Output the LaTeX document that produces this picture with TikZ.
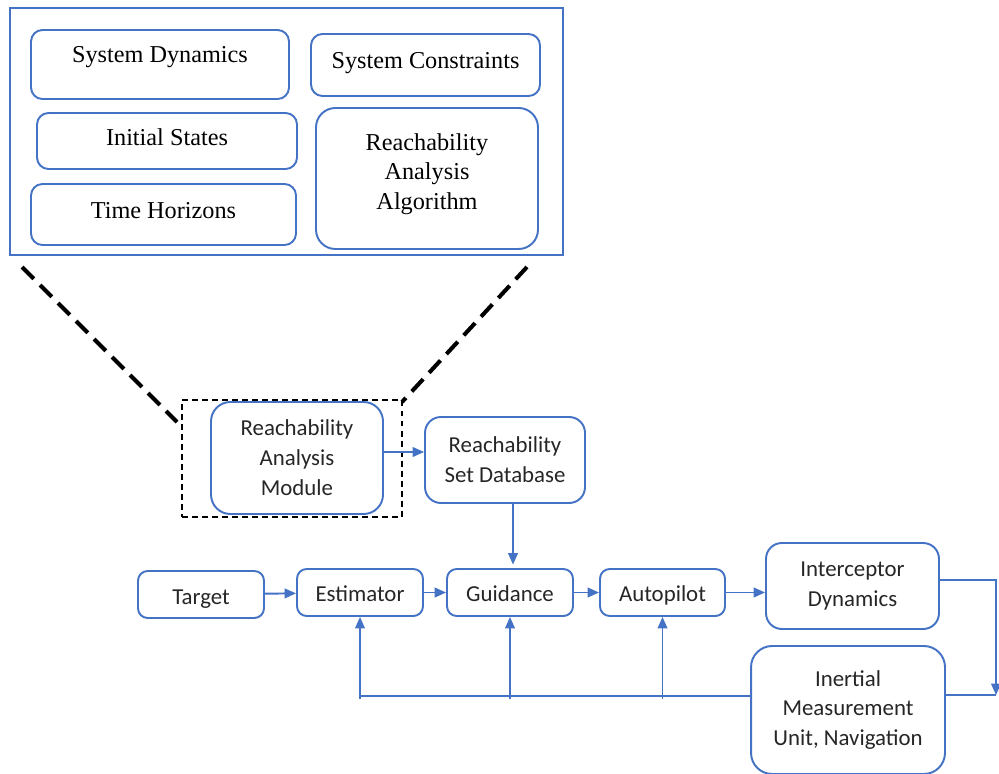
\documentclass[tikz,border=0pt]{standalone}
\usepackage{fontspec}
\setmainfont{Liberation Serif}
\newfontfamily\calibrifont{Carlito}
\usetikzlibrary{arrows.meta}
\definecolor{boxblue}{HTML}{4472C4}
\definecolor{textgray}{HTML}{262626}

\begin{document}
\begin{tikzpicture}[x=0.02cm,y=-0.02cm,
    topbox/.style={draw=boxblue,line width=1.1pt,rounded corners=6.5pt,
      align=center,inner sep=0pt,font=\fontsize{13.8}{16.7}\selectfont},
    blockbox/.style={draw=boxblue,line width=1.1pt,rounded corners=5.5pt,
      align=center,inner sep=0pt,text=textgray,
      font=\calibrifont\fontsize{13}{17}\selectfont},
    smallbox/.style={blockbox,minimum width=2.52cm,minimum height=0.94cm,
      text height=12.5pt,text depth=2pt},
    arr/.style={draw=boxblue,line width=1.1pt,-{Triangle[length=6.5pt,width=5.5pt]}},
    wire/.style={draw=boxblue,line width=1.1pt},
    zoomline/.style={line width=2.3pt,dash pattern=on 9.5pt off 5pt},
    zoombox/.style={draw,line width=0.85pt,dash pattern=on 3.4pt off 2.3pt,
      minimum width=4.4cm,minimum height=2.34cm,inner sep=0pt}]
  \useasboundingbox (0,0) rectangle (999,773);
  \clip (0,0) rectangle (999,773);

  % reachability analysis details
  \draw[boxblue,line width=1.1pt] (10,8) rectangle (563,255);
  \node[topbox,minimum width=5.16cm,minimum height=1.38cm,text depth=11pt] (sysdyn) at (160,64.5) {System Dynamics};
  \node[topbox,minimum width=4.58cm,minimum height=1.24cm,text depth=5pt] (syscon) at (425.5,65) {System Constraints};
  \node[topbox,minimum width=5.2cm,minimum height=1.12cm,text depth=5pt] (initst) at (167,141) {Initial States};
  \node[topbox,minimum width=5.3cm,minimum height=1.22cm,text depth=5pt] (timehor) at (163.5,214.5) {Time Horizons};
  \node[topbox,minimum width=4.44cm,minimum height=2.82cm,rounded corners=11pt] (algo) at (427,178.5)
    {\raisebox{-1pt}[0pt][0pt]{\begin{tabular}{@{}c@{}}Reachability\\Analysis\\Algorithm\end{tabular}}};

  % zoom lines
  \coordinate (zl1) at (22,267);
  \coordinate (zl2) at (177,422);
  \coordinate (zr1) at (527,267);
  \coordinate (zr2) at (402,402);
  \draw[zoomline] (zl1) -- (zl2);
  \draw[zoomline] (zr1) -- (zr2);
  \node[zoombox] (zoom) at (292,458.5) {};

  % block diagram
  \node[blockbox,minimum width=3.44cm,minimum height=2.24cm,rounded corners=11pt] (ram) at (297,458) {Reachability\\Analysis\\Module};
  \node[blockbox,minimum width=3.2cm,minimum height=1.72cm,rounded corners=9pt] (rsd) at (505,460) {Reachability\\Set Database};
  \node[smallbox,text height=13pt,text depth=1.5pt] (target) at (201,594.5) {Target};
  \node[smallbox] (est) at (360,592.5) {Estimator};
  \node[smallbox] (guid) at (510,592.5) {Guidance};
  \node[smallbox,minimum width=2.5cm] (auto) at (662.5,592.5) {Autopilot};
  \node[blockbox,minimum width=3.46cm,minimum height=1.72cm,rounded corners=9pt] (intc) at (852.5,586) {Interceptor\\Dynamics};
  \node[blockbox,minimum width=3.88cm,minimum height=2.56cm,rounded corners=12pt] (imu) at (848,710) {Inertial\\Measurement\\Unit, Navigation};

  \draw[arr] ([yshift=0.12cm]ram.east) -- ([yshift=0.12cm]ram.east -| rsd.west);
  \draw[arr] ([xshift=0.16cm]rsd.south) -- ([xshift=0.16cm,yshift=2pt]rsd.south |- guid.north);
  \draw[arr] (target) -- (est);
  \draw[arr] (est) -- (guid);
  \draw[arr] (guid) -- (auto);
  \draw[arr] (auto) -- (auto -| intc.west);

  % feedback paths
  \coordinate (loopc) at (996,695);
  \draw[arr] ([yshift=0.12cm]intc.east) -| (loopc);
  \draw[wire] (imu.east |- loopc) -- (loopc);
  \coordinate (fbl) at (360,696);
  \draw[wire] (imu.west |- fbl) -- (fbl);
  \draw[arr] ([yshift=-1.5pt]fbl) -- (est.south);
  \draw[arr] ([yshift=-1.5pt]guid.south |- fbl) -- (guid.south);
  \draw[arr] ([yshift=-1.5pt]auto.south |- fbl) -- (auto.south);
\end{tikzpicture}
\end{document}
